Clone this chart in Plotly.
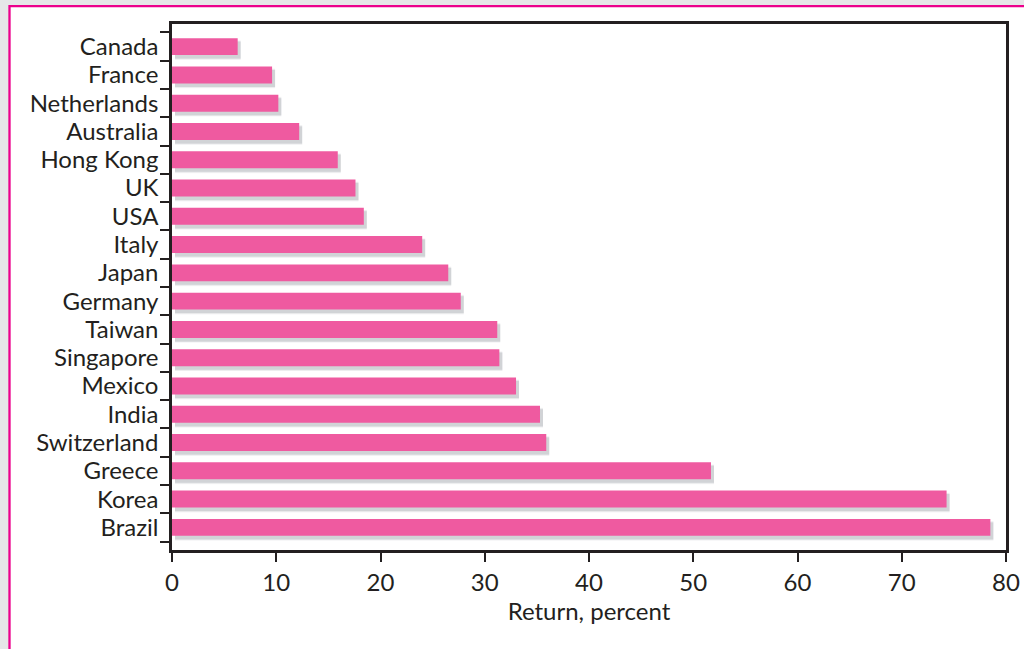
import plotly.graph_objects as go

countries = ["Canada", "France", "Netherlands", "Australia", "Hong Kong", "UK", "USA",
             "Italy", "Japan", "Germany", "Taiwan", "Singapore", "Mexico", "India",
             "Switzerland", "Greece", "Korea", "Brazil"]
returns = [6.3, 9.6, 10.2, 12.2, 15.9, 17.6, 18.4, 24.0, 26.5, 27.7, 31.2, 31.4,
           33.0, 35.3, 35.9, 51.7, 74.3, 78.5]
x_ticks = [0, 10, 20, 30, 40, 50, 60, 70, 80]
x_title = "Return, percent"

BAR = "#EF5AA0"
INK = "#231F20"
FONT = "Lato"
FS = 24

W, H = 1024, 649
L, R, T, B = 172, 18, 24, 99
pw, ph = W - L - R, H - T - B

xr = [0, 80]
yr = [17.8, -0.8]
px_x = (xr[1] - xr[0]) / pw
px_y = (yr[0] - yr[1]) / ph

fig = go.Figure()
# soft shadow layers (hidden base axes, offset by a few pixels)
for wdt, alpha in [(0.70, 0.06), (0.65, 0.09), (0.6, 0.13)]:
    fig.add_trace(go.Bar(x=returns, y=countries, orientation="h", width=wdt,
                         marker=dict(color=f"rgba(80,85,95,{alpha})", line_width=0),
                         xaxis="x", yaxis="y", hoverinfo="skip", showlegend=False))
# main bars
fig.add_trace(go.Bar(x=returns, y=countries, orientation="h", width=0.6,
                     marker=dict(color=BAR, line_width=0),
                     xaxis="x2", yaxis="y2", showlegend=False))

sx, sy = 3 * px_x, 3.5 * px_y
fig.update_layout(
    width=W, height=H,
    margin=dict(l=L, r=R, t=T, b=B, autoexpand=False),
    paper_bgcolor="#E6E7E8",
    plot_bgcolor="rgba(0,0,0,0)",
    font=dict(family=FONT, color=INK, size=FS),
    barmode="overlay",
    xaxis=dict(visible=False, automargin=False, range=[xr[0] - sx, xr[1] - sx], domain=[0, 1]),
    yaxis=dict(visible=False, automargin=False, type="category", categoryorder="array",
               categoryarray=countries, range=[yr[0] - sy, yr[1] - sy], domain=[0, 1]),
    xaxis2=dict(overlaying="x", anchor="y2", automargin=False, range=xr,
                tickmode="array", tickvals=x_ticks,
                ticks="outside", ticklen=9, tickwidth=2, tickcolor=INK,
                showline=True, linewidth=2.5, linecolor=INK, mirror=True,
                showgrid=False, zeroline=False,
                tickfont=dict(size=FS, color=INK, family=FONT),
                title=dict(text=x_title, font=dict(size=FS, color=INK, family=FONT), standoff=8)),
    yaxis2=dict(overlaying="y", anchor="x2", automargin=False, type="category",
                categoryorder="array", categoryarray=countries, range=yr,
                tickmode="array", tickvals=countries, ticktext=countries,
                tickson="boundaries",
                ticks="outside", ticklen=9, tickwidth=2, tickcolor=INK,
                ticklabelstandoff=6,
                showline=True, linewidth=2.5, linecolor=INK, mirror=True,
                showgrid=False, zeroline=False,
                tickfont=dict(size=FS, color=INK, family=FONT)),
    shapes=[dict(type="rect", xref="paper", yref="paper", layer="below",
                 x0=(9.5 - L) / pw, x1=1.2, y0=-0.3, y1=(H - B - 6.2) / ph,
                 fillcolor="white", line=dict(color="#EC008C", width=2.3))],
)

fig.write_html("out.html", config={"displayModeBar": False},
               post_script="document.body.style.margin='0';document.body.style.overflow='hidden';")
